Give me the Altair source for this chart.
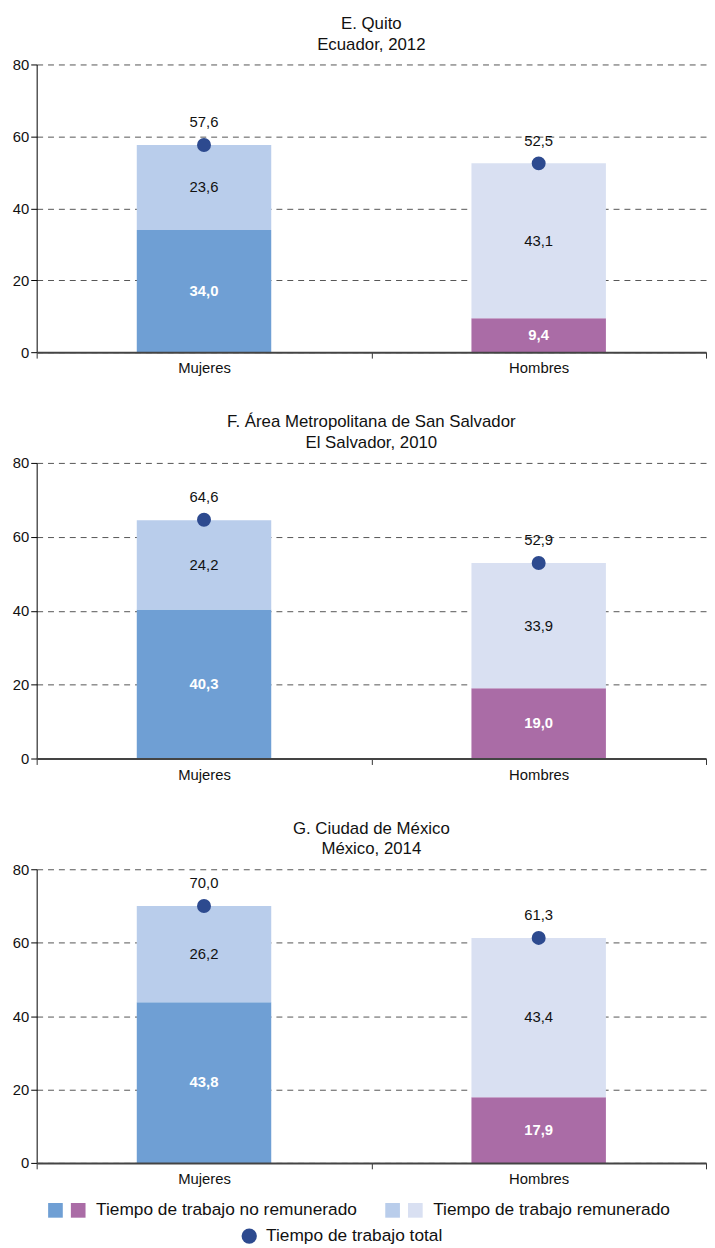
import altair as alt
import pandas as pd

titles = ["E. Quito", "F. Área Metropolitana de San Salvador", "G. Ciudad de México"]
subtitles = ["Ecuador, 2012", "El Salvador, 2010", "México, 2014"]
sexes = ["Mujeres", "Hombres"]
unpaid_m = [34.0, 40.3, 43.8]
paid_m = [23.6, 24.2, 26.2]
total_m = [57.6, 64.6, 70.0]
unpaid_h = [9.4, 19.0, 17.9]
paid_h = [43.1, 33.9, 43.4]
total_h = [52.5, 52.9, 61.3]
y_ticks = [0, 20, 40, 60, 80]
legend_labels = ["Tiempo de trabajo no remunerado", "Tiempo de trabajo remunerado", "Tiempo de trabajo total"]

seg_keys = ["Mujeres|np", "Mujeres|r", "Hombres|np", "Hombres|r"]
seg_colors = ["#6f9fd4", "#b9cdeb", "#aa6ca6", "#d9e0f2"]
dot_color = "#2d4a8f"
FONT = "Liberation Sans"
PW = 677
heights = [291, 299, 297]


def fmt(v):
    return f"{v:.1f}".replace(".", ",")


def panel(i):
    rows = []
    for sex, unpaid, paid in [("Mujeres", unpaid_m[i], paid_m[i]), ("Hombres", unpaid_h[i], paid_h[i])]:
        rows.append(dict(sex=sex, key=f"{sex}|np", kind="np", y0=0, y1=unpaid, mid=unpaid / 2, lab=fmt(unpaid)))
        rows.append(dict(sex=sex, key=f"{sex}|r", kind="r", y0=unpaid, y1=unpaid + paid,
                         mid=unpaid + paid / 2, lab=fmt(paid)))
    seg = pd.DataFrame(rows)
    tot = pd.DataFrame(dict(sex=sexes, total=[total_m[i], total_h[i]], lab=[fmt(total_m[i]), fmt(total_h[i])]))

    xenc = alt.X("sex:N", title=None,
                 scale=alt.Scale(domain=sexes, paddingInner=0, paddingOuter=0),
                 axis=alt.Axis(labelAngle=0, tickBand="extent", tickSize=6, tickColor="#333",
                               domainColor="#444", domainWidth=2, labelPadding=3, zindex=1))
    yscale = alt.Scale(domain=[0, 80], nice=False, zero=True)
    yaxis = alt.Axis(values=y_ticks, grid=True, gridDash=[6, 5], gridColor="#555", gridWidth=1,
                     domainColor="#000", tickColor="#000", tickSize=6, labelPadding=2)

    bars = alt.Chart(seg).mark_bar(size=136).encode(
        x=xenc,
        y=alt.Y("y0:Q", scale=yscale, axis=yaxis, title=None),
        y2="y1:Q",
        color=alt.Color("key:N", scale=alt.Scale(domain=seg_keys, range=seg_colors), legend=None),
    )
    np_text = alt.Chart(seg).transform_filter("datum.kind == 'np'").mark_text(
        color="white", fontWeight="bold", fontSize=15, font=FONT).encode(
        x=xenc, y=alt.Y("mid:Q", scale=yscale, axis=yaxis, title=None), text="lab:N")
    r_text = alt.Chart(seg).transform_filter("datum.kind == 'r'").mark_text(
        color="#111", fontSize=15, font=FONT).encode(
        x=xenc, y=alt.Y("mid:Q", scale=yscale, axis=yaxis, title=None), text="lab:N")
    dots = alt.Chart(tot).mark_circle(size=200, color=dot_color, opacity=1).encode(
        x=xenc, y=alt.Y("total:Q", scale=yscale, axis=yaxis, title=None))
    tot_text = alt.Chart(tot).mark_text(color="#111", fontSize=15, font=FONT, dy=-23).encode(
        x=xenc, y=alt.Y("total:Q", scale=yscale, axis=yaxis, title=None), text="lab:N")

    return alt.layer(bars, np_text, r_text, dots, tot_text).properties(
        width=PW, height=heights[i],
        title=alt.TitleParams([titles[i], subtitles[i]], fontSize=17, fontWeight="normal", font=FONT,
                              color="#111", anchor="middle", frame="group", lineHeight=21, offset=4),
    )


# custom legend (two swatches per entry)
ldf = pd.DataFrame({"a": [0]})
base = alt.Chart(ldf)
row1, row2 = 24, 50
LFS = 17.5
legend = alt.layer(
    base.mark_square(size=220, color=seg_colors[0], opacity=1).encode(x=alt.value(19), y=alt.value(row1)),
    base.mark_square(size=220, color=seg_colors[2], opacity=1).encode(x=alt.value(42), y=alt.value(row1)),
    base.mark_text(align="left", fontSize=LFS, font=FONT, color="#111", text=legend_labels[0]).encode(
        x=alt.value(60), y=alt.value(row1)),
    base.mark_square(size=220, color=seg_colors[1], opacity=1).encode(x=alt.value(360), y=alt.value(row1)),
    base.mark_square(size=220, color=seg_colors[3], opacity=1).encode(x=alt.value(383), y=alt.value(row1)),
    base.mark_text(align="left", fontSize=LFS, font=FONT, color="#111", text=legend_labels[1]).encode(
        x=alt.value(401), y=alt.value(row1)),
    base.mark_circle(size=240, color=dot_color, opacity=1).encode(x=alt.value(215), y=alt.value(row2)),
    base.mark_text(align="left", fontSize=LFS, font=FONT, color="#111", text=legend_labels[2]).encode(
        x=alt.value(232), y=alt.value(row2)),
).properties(width=PW, height=58)

panels = alt.vconcat(panel(0), panel(1), panel(2), spacing=38)

chart = alt.vconcat(panels, legend, spacing=0).configure(
    font=FONT, padding={"left": 4, "top": 0, "right": 0, "bottom": 0}
).configure_view(stroke=None).configure_axis(
    labelFontSize=15, labelColor="#111", labelFont=FONT
)

chart.save("out.html", embed_options={"renderer": "svg", "actions": False})
